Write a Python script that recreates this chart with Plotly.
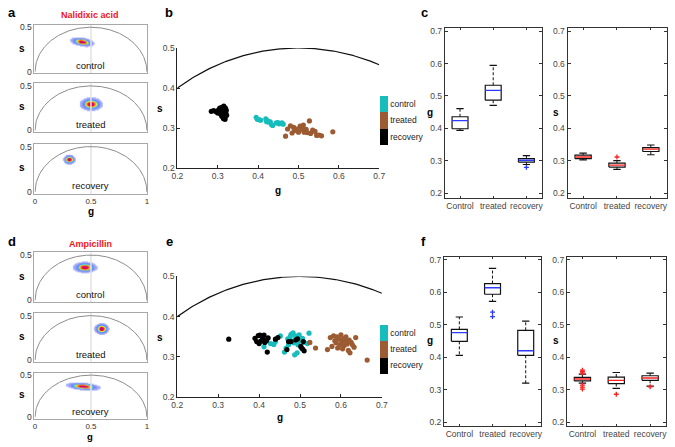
import numpy as np
import plotly.graph_objects as go

W, H = 675, 447
FONT = "Liberation Sans, Arial, Helvetica, sans-serif"

# ---------------- data ----------------
groups = ["control", "treated", "recovery"]
box_labels = ["Control", "treated", "recovery"]
drugs = ["Nalidixic acid", "Ampicillin"]

# panels a / d : phasor density blobs per group (centre g, centre s, spread g, spread s, g-s correlation)
nal_blob_g = [0.420, 0.500, 0.305]
nal_blob_s = [0.335, 0.295, 0.358]
nal_blob_wg = [0.047, 0.045, 0.024]
nal_blob_ws = [0.023, 0.033, 0.024]
nal_blob_rho = [-0.35, 0.0, 0.0]
amp_blob_g = [0.445, 0.594, 0.430]
amp_blob_s = [0.365, 0.352, 0.367]
amp_blob_wg = [0.047, 0.029, 0.067]
amp_blob_ws = [0.027, 0.029, 0.021]
amp_blob_rho = [0.0, 0.0, -0.35]

# panel b : per-cell phasor centres, Nalidixic acid
nal_control_g = [0.395, 0.398, 0.403, 0.406, 0.419, 0.421, 0.424, 0.427, 0.430, 0.433, 0.436, 0.445, 0.449, 0.452, 0.459, 0.462]
nal_control_s = [0.327, 0.322, 0.321, 0.320, 0.323, 0.316, 0.318, 0.315, 0.316, 0.309, 0.307, 0.313, 0.314, 0.311, 0.313, 0.310]
nal_treated_g = [0.468, 0.473, 0.480, 0.484, 0.488, 0.490, 0.496, 0.500, 0.504, 0.508, 0.510, 0.512, 0.514, 0.519, 0.522, 0.527, 0.530, 0.535, 0.541, 0.545, 0.551, 0.557, 0.585]
nal_treated_s = [0.280, 0.298, 0.306, 0.288, 0.302, 0.294, 0.298, 0.290, 0.305, 0.297, 0.300, 0.308, 0.290, 0.297, 0.289, 0.318, 0.287, 0.295, 0.292, 0.282, 0.283, 0.281, 0.291]
nal_recovery_g = [0.284, 0.290, 0.296, 0.300, 0.302, 0.305, 0.306, 0.308, 0.310, 0.310, 0.312, 0.313, 0.314, 0.315, 0.316, 0.317, 0.318, 0.319, 0.320, 0.321, 0.322, 0.318, 0.311, 0.307]
nal_recovery_s = [0.342, 0.344, 0.341, 0.338, 0.346, 0.350, 0.336, 0.344, 0.352, 0.330, 0.340, 0.347, 0.324, 0.355, 0.335, 0.344, 0.328, 0.350, 0.338, 0.345, 0.332, 0.322, 0.333, 0.340]

# panel e : per-cell phasor centres, Ampicillin
amp_control_g = [0.404, 0.412, 0.428, 0.436, 0.440, 0.452, 0.462, 0.466, 0.470, 0.472, 0.476, 0.478, 0.480, 0.483, 0.485, 0.487, 0.489, 0.490, 0.493, 0.495, 0.498, 0.500, 0.503, 0.506, 0.510, 0.518, 0.522]
amp_control_s = [0.338, 0.325, 0.333, 0.331, 0.338, 0.352, 0.312, 0.322, 0.345, 0.330, 0.350, 0.356, 0.340, 0.360, 0.335, 0.305, 0.352, 0.345, 0.310, 0.330, 0.355, 0.340, 0.322, 0.346, 0.336, 0.333, 0.359]
amp_treated_g = [0.524, 0.538, 0.567, 0.574, 0.578, 0.582, 0.585, 0.588, 0.590, 0.592, 0.595, 0.597, 0.600, 0.602, 0.604, 0.606, 0.608, 0.610, 0.612, 0.615, 0.618, 0.620, 0.622, 0.625, 0.628, 0.632, 0.636, 0.664]
amp_treated_s = [0.336, 0.322, 0.318, 0.348, 0.326, 0.352, 0.340, 0.335, 0.350, 0.322, 0.344, 0.330, 0.355, 0.338, 0.320, 0.345, 0.328, 0.340, 0.350, 0.332, 0.316, 0.342, 0.310, 0.336, 0.330, 0.324, 0.348, 0.292]
amp_recovery_g = [0.326, 0.390, 0.394, 0.398, 0.400, 0.402, 0.405, 0.408, 0.410, 0.412, 0.414, 0.418, 0.420, 0.422, 0.440, 0.446, 0.468, 0.472, 0.478, 0.490, 0.494, 0.502, 0.506, 0.508, 0.510]
amp_recovery_s = [0.344, 0.346, 0.338, 0.353, 0.333, 0.354, 0.340, 0.350, 0.344, 0.354, 0.336, 0.340, 0.312, 0.347, 0.344, 0.348, 0.318, 0.338, 0.338, 0.342, 0.345, 0.326, 0.320, 0.338, 0.315]

# panel c : box-plot summaries (Nalidixic acid)
nal_g_q1 = [0.399, 0.487, 0.296]
nal_g_med = [0.424, 0.517, 0.302]
nal_g_q3 = [0.436, 0.533, 0.307]
nal_g_lo = [0.394, 0.471, 0.289]
nal_g_hi = [0.461, 0.594, 0.316]
nal_g_out_cat = [2]
nal_g_out_val = [0.280]
nal_s_q1 = [0.307, 0.281, 0.329]
nal_s_med = [0.312, 0.287, 0.336]
nal_s_q3 = [0.318, 0.293, 0.341]
nal_s_lo = [0.303, 0.274, 0.319]
nal_s_hi = [0.324, 0.301, 0.349]
nal_s_out_cat = [1]
nal_s_out_val = [0.312]

# panel f : box-plot summaries (Ampicillin)
amp_g_q1 = [0.449, 0.594, 0.406]
amp_g_med = [0.476, 0.614, 0.420]
amp_g_q3 = [0.486, 0.627, 0.483]
amp_g_lo = [0.406, 0.572, 0.320]
amp_g_hi = [0.524, 0.674, 0.511]
amp_g_out_cat = [1, 1]
amp_g_out_val = [0.539, 0.525]
amp_s_q1 = [0.327, 0.319, 0.329]
amp_s_med = [0.333, 0.329, 0.336]
amp_s_q3 = [0.338, 0.339, 0.343]
amp_s_lo = [0.320, 0.304, 0.311]
amp_s_hi = [0.348, 0.353, 0.351]
amp_s_out_cat = [0, 0, 0, 0, 0, 0, 1, 2]
amp_s_out_val = [0.352, 0.356, 0.360, 0.314, 0.308, 0.302, 0.286, 0.309]

# ---------------- styling ----------------
C_CYAN = "#17bdbd"
C_BROWN = "#9c5b32"
C_BLACK = "#000000"
BLOB_SCALE = [
    [0.0, "rgba(255,255,255,0)"], [0.055, "rgba(255,255,255,0)"],
    [0.06, "rgba(180,185,245,0.9)"], [0.20, "rgb(140,150,250)"],
    [0.34, "rgb(100,130,250)"], [0.46, "rgb(70,215,230)"], [0.58, "rgb(235,240,50)"],
    [0.72, "rgb(255,130,20)"], [0.84, "rgb(235,20,45)"], [1.0, "rgb(185,0,165)"],
]


def xd(x0, x1):
    return [x0 / W, x1 / W]


def yd(y0, y1):
    return [1 - y1 / H, 1 - y0 / H]


def px(x):
    return x / W


def py(y):
    return 1 - y / H


fig = go.Figure()
layout_axes = {}
annotations = []


def ax_keys(n):
    return ("xaxis" if n == 1 else f"xaxis{n}", "yaxis" if n == 1 else f"yaxis{n}",
            "x" if n == 1 else f"x{n}", "y" if n == 1 else f"y{n}")


def label(x, y, text, size=10, bold=True, color="#000", xanchor="center"):
    annotations.append(dict(x=px(x), y=py(y), xref="paper", yref="paper", text=f"<b>{text}</b>" if bold else text,
                            showarrow=False, xanchor=xanchor, yanchor="middle",
                            font=dict(family=FONT, size=size, color=color)))


# ---------- panels a and d : phasor density maps ----------
rows_px = [(20, 70), (80, 130), (142, 193), (253, 304), (315, 365), (376, 423)]
gg = np.linspace(0, 1, 241)
ss = np.linspace(-0.02, 0.53, 140)
G, S = np.meshgrid(gg, ss)
arc_g = np.linspace(0, 1, 301)
arc_s = np.sqrt(np.clip(0.25 - (arc_g - 0.5) ** 2, 0, None))

blob_sets = [
    (nal_blob_g, nal_blob_s, nal_blob_wg, nal_blob_ws, nal_blob_rho),
    (amp_blob_g, amp_blob_s, amp_blob_wg, amp_blob_ws, amp_blob_rho),
]
for k in range(6):
    n = k + 1
    xk, yk, xr, yr = ax_keys(n)
    drug = k // 3
    gi = k % 3
    bg, bs, bwg, bws, brho = blob_sets[drug]
    dx = (G - bg[gi]) / bwg[gi]
    dy = (S - bs[gi]) / bws[gi]
    r = brho[gi]
    q = (dx * dx - 2 * r * dx * dy + dy * dy) / (1 - r * r)
    z = np.exp(-0.5 * q)
    fig.add_trace(go.Scatter(x=[0.5, 0.5], y=[-0.02, 0.53], mode="lines", line=dict(color="#e2e2e2", width=1.5),
                             xaxis=xr, yaxis=yr, hoverinfo="skip"))
    fig.add_trace(go.Scatter(x=arc_g, y=arc_s, mode="lines", line=dict(color="#8c8c8c", width=1),
                             xaxis=xr, yaxis=yr, hoverinfo="skip"))
    fig.add_trace(go.Heatmap(x=gg, y=ss, z=z, colorscale=BLOB_SCALE, zmin=0, zmax=1, zsmooth="best",
                             showscale=False, xaxis=xr, yaxis=yr, hoverinfo="skip"))
    y0, y1 = rows_px[k]
    bottom = (gi == 2)
    layout_axes[xk] = dict(domain=xd(29, 144), range=[-0.005, 1.005], anchor=yr, showline=True, mirror=True,
                           linecolor="#a8a8a8", linewidth=1, showgrid=False, zeroline=False,
                           tickvals=[0, 0.5, 1], ticktext=["0", "0.5", "1"], ticks="", showticklabels=bottom,
                           tickfont=dict(family=FONT, size=8, color="#333"))
    layout_axes[yk] = dict(domain=yd(y0, y1), range=[-0.02, 0.53], anchor=xr, showline=True, mirror=True,
                           linecolor="#a8a8a8", linewidth=1, showgrid=False, zeroline=False,
                           tickvals=[0, 0.5], ticktext=["0", "0.5"], ticks="",
                           tickfont=dict(family=FONT, size=8.5, color="#333"))
    annotations.append(dict(x=0.5, y=0.065, xref=xr, yref=yr, text=groups[gi], showarrow=False,
                            font=dict(family=FONT, size=9.5, color="#111"), yanchor="middle"))
    label(16, (y0 + y1) / 2 - 1, "s", size=10)

label(86, 10, drugs[0], size=9, color="#f0141e")
label(86, 244, drugs[1], size=9, color="#f0141e")
label(87, 211, "g", size=10)
label(86, 441, "g", size=9.5)

# ---------- panels b and e : per-cell phasor scatter ----------
curve_g = np.linspace(0.2, 0.7, 200)
curve_s = np.sqrt(0.25 - (curve_g - 0.5) ** 2)
scatter_sets = [
    (7, (174.5, 380), (44, 167), 93,
     [nal_control_g, nal_treated_g, nal_recovery_g], [nal_control_s, nal_treated_s, nal_recovery_s]),
    (8, (174.3, 382.7), (277.7, 401), 327,
     [amp_control_g, amp_treated_g, amp_recovery_g], [amp_control_s, amp_treated_s, amp_recovery_s]),
]
for n, (x0, x1), (y0, y1), leg_top, gl, sl in scatter_sets:
    xk, yk, xr, yr = ax_keys(n)
    fig.add_trace(go.Scatter(x=curve_g, y=curve_s, mode="lines", line=dict(color="#111", width=1.2),
                             xaxis=xr, yaxis=yr, hoverinfo="skip"))
    allg, alls, codes = [], [], []
    for i in range(3):
        allg += list(gl[i])
        alls += list(sl[i])
        codes += [2 - i] * len(gl[i])
    fig.add_trace(go.Scatter(
        x=allg, y=alls, mode="markers", xaxis=xr, yaxis=yr,
        marker=dict(size=5.2, color=codes, cmin=-0.5, cmax=2.5, line=dict(width=0),
                    colorscale=[[0, C_BLACK], [1 / 3, C_BLACK], [1 / 3, C_BROWN], [2 / 3, C_BROWN],
                                [2 / 3, C_CYAN], [1, C_CYAN]],
                    showscale=True,
                    colorbar=dict(x=px(380.5), xanchor="left", xpad=0, y=py(leg_top), yanchor="top", ypad=0,
                                  len=49, lenmode="pixels", thickness=7.5, thicknessmode="pixels",
                                  outlinewidth=0, tickvals=[2, 1, 0], ticktext=groups, ticks="",
                                  tickfont=dict(family=FONT, size=8.5, color="#222"))),
    ))
    layout_axes[xk] = dict(domain=xd(x0, x1), range=[0.2, 0.7], anchor=yr, showline=True, mirror=False,
                           linecolor="#222", linewidth=1, showgrid=False, zeroline=False,
                           tickvals=[0.2, 0.3, 0.4, 0.5, 0.6, 0.7], ticks="inside", ticklen=3, tickcolor="#222",
                           tickfont=dict(family=FONT, size=8.5, color="#444"))
    layout_axes[yk] = dict(domain=yd(y0, y1), range=[0.2, 0.5], anchor=xr, showline=True, mirror=False,
                           linecolor="#222", linewidth=1, showgrid=False, zeroline=False,
                           tickvals=[0.2, 0.3, 0.4, 0.5], ticks="inside", ticklen=3, tickcolor="#222",
                           tickfont=dict(family=FONT, size=8.5, color="#444"))

label(157, 106, "s", size=10)
label(277, 190, "g", size=10)
label(157, 340, "s", size=10)
label(279, 422, "g", size=10)

# ---------- panels c and f : box plots ----------
box_sets = [
    (9, (446.7, 545.7), (24, 197), [0.187, 0.708], nal_g_q1, nal_g_med, nal_g_q3, nal_g_lo, nal_g_hi,
     nal_g_out_cat, nal_g_out_val, "#2b3cff"),
    (10, (571.7, 672.7), (24, 197), [0.187, 0.708], nal_s_q1, nal_s_med, nal_s_q3, nal_s_lo, nal_s_hi,
     nal_s_out_cat, nal_s_out_val, "#ff1e1e"),
    (11, (446, 545), (257.7, 430.7), [0.188, 0.709], amp_g_q1, amp_g_med, amp_g_q3, amp_g_lo, amp_g_hi,
     amp_g_out_cat, amp_g_out_val, "#2b3cff"),
    (12, (571, 672), (257.7, 430.7), [0.188, 0.709], amp_s_q1, amp_s_med, amp_s_q3, amp_s_lo, amp_s_hi,
     amp_s_out_cat, amp_s_out_val, "#ff1e1e"),
]
BW, CW = 0.24, 0.11
for n, (x0, x1), (y0, y1), yrange, q1, med, q3, lo, hi, oc, ov, mcol in box_sets:
    xk, yk, xr, yr = ax_keys(n)
    bx, by, wx, wy, cx, cy, mx, my = [], [], [], [], [], [], [], []
    for i in range(3):
        bx += [i - BW, i + BW, i + BW, i - BW, i - BW, None]
        by += [q1[i], q1[i], q3[i], q3[i], q1[i], None]
        wx += [i, i, None, i, i, None]
        wy += [q3[i], hi[i], None, q1[i], lo[i], None]
        cx += [i - CW, i + CW, None, i - CW, i + CW, None]
        cy += [hi[i], hi[i], None, lo[i], lo[i], None]
        mx += [i - BW, i + BW, None]
        my += [med[i], med[i], None]
    fig.add_trace(go.Scatter(x=wx, y=wy, mode="lines", line=dict(color="#111", width=1, dash="3px,2px"),
                             xaxis=xr, yaxis=yr, hoverinfo="skip"))
    fig.add_trace(go.Scatter(x=cx, y=cy, mode="lines", line=dict(color="#111", width=1.2),
                             xaxis=xr, yaxis=yr, hoverinfo="skip"))
    fig.add_trace(go.Scatter(x=bx, y=by, mode="lines", line=dict(color="#111", width=1.2),
                             xaxis=xr, yaxis=yr, hoverinfo="skip"))
    fig.add_trace(go.Scatter(x=mx, y=my, mode="lines", line=dict(color=mcol, width=1.3),
                             xaxis=xr, yaxis=yr, hoverinfo="skip"))
    fig.add_trace(go.Scatter(x=oc, y=ov, mode="markers", xaxis=xr, yaxis=yr, hoverinfo="skip",
                             marker=dict(symbol="cross-thin", size=3.5, line=dict(color=mcol, width=1.3))))
    layout_axes[xk] = dict(domain=xd(x0, x1), range=[-0.46, 2.47], anchor=yr, showline=True, mirror="ticks",
                           linecolor="#333", linewidth=1, showgrid=False, zeroline=False,
                           tickvals=[0, 1, 2], ticktext=box_labels, ticks="inside", ticklen=2, tickcolor="#333",
                           tickfont=dict(family=FONT, size=8.5, color="#444"))
    layout_axes[yk] = dict(domain=yd(y0, y1), range=yrange, anchor=xr, showline=True, mirror="ticks",
                           linecolor="#333", linewidth=1, showgrid=False, zeroline=False,
                           tickvals=[0.2, 0.3, 0.4, 0.5, 0.6, 0.7], ticks="inside", ticklen=3, tickcolor="#333",
                           tickfont=dict(family=FONT, size=8.5, color="#444"))

label(432, 110, "g", size=10)
label(560, 110, "s", size=10)
label(432, 343, "g", size=10)
label(560, 343, "s", size=10)

# ---------- panel letters ----------
for t, x, y in [("a", 6, 8), ("b", 166, 8), ("c", 426, 8), ("d", 6, 242), ("e", 166, 242), ("f", 425, 242)]:
    label(x, y, t, size=13, xanchor="center")

fig.update_layout(
    width=W, height=H, autosize=False, margin=dict(l=0, r=0, t=0, b=0),
    paper_bgcolor="white", plot_bgcolor="white", showlegend=False,
    font=dict(family=FONT), annotations=annotations, **layout_axes,
)
fig.write_html("out.html", config={"displayModeBar": False, "staticPlot": True},
               post_script="document.body.style.margin='0px';document.body.style.padding='0px';")
